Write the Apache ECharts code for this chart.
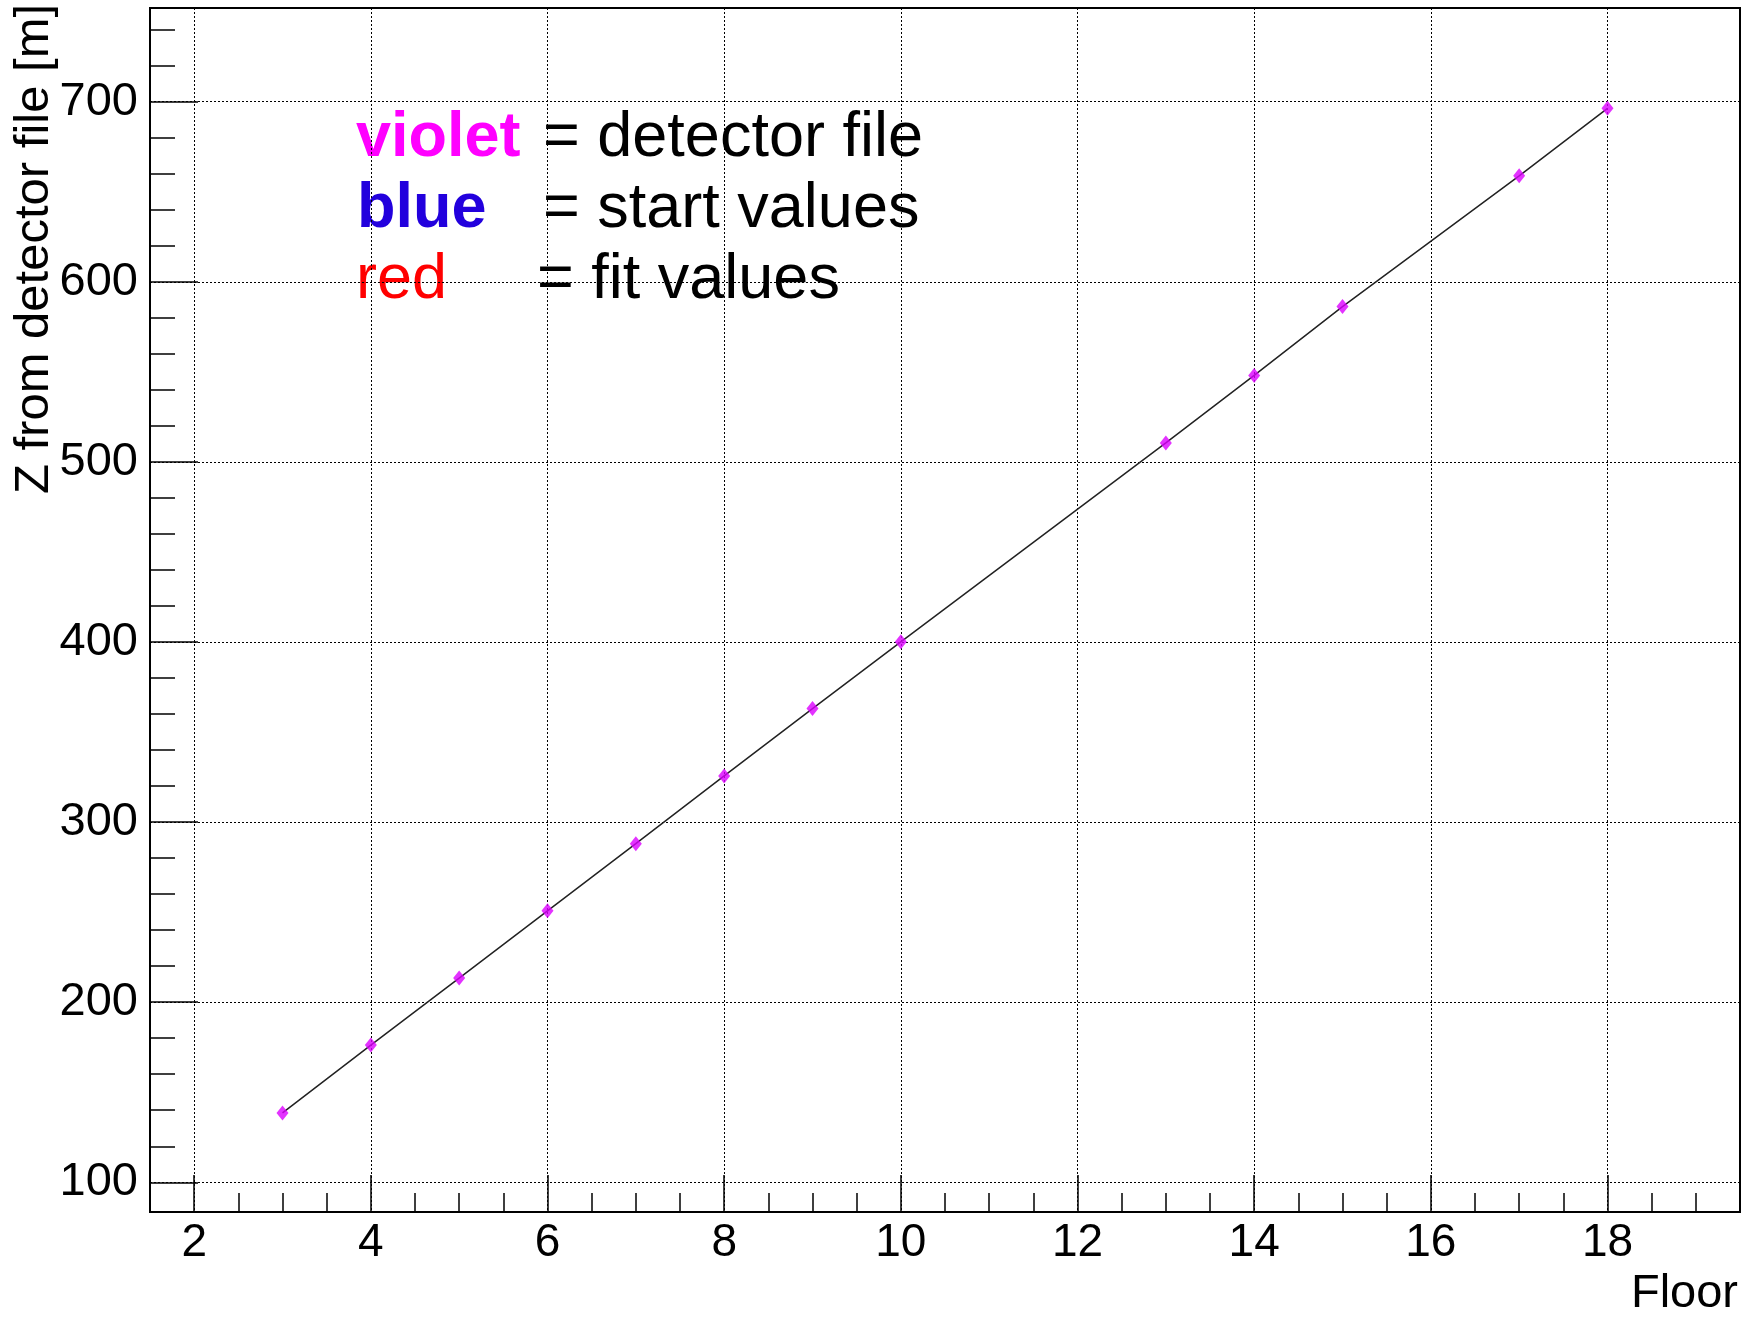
<!DOCTYPE html>
<html>
<head>
<meta charset="utf-8">
<script src="https://cdn.jsdelivr.net/npm/echarts@6/dist/echarts.min.js"></script>
<style>
html,body{margin:0;padding:0;background:#fff;}
#chart{width:1749px;height:1319px;}
</style>
</head>
<body>
<div id="chart"></div>
<script>
// ---- data ----
const floors = [3, 4, 5, 6, 7, 8, 9, 10, 13, 14, 15, 17, 18];
const zValues = [138.5, 176.2, 213.4, 250.7, 288.0, 325.6, 363.0, 400.1, 510.5, 548.0, 586.2, 658.8, 696.3];

const xMajorTicks = [2, 4, 6, 8, 10, 12, 14, 16, 18];
const xMinorTicks = [2, 2.5, 3, 3.5, 4, 4.5, 5, 5.5, 6, 6.5, 7, 7.5, 8, 8.5, 9, 9.5, 10, 10.5, 11, 11.5, 12, 12.5, 13, 13.5, 14, 14.5, 15, 15.5, 16, 16.5, 17, 17.5, 18, 18.5, 19];
const yMajorTicks = [100, 200, 300, 400, 500, 600, 700];
const yMinorTicks = [100, 120, 140, 160, 180, 200, 220, 240, 260, 280, 300, 320, 340, 360, 380, 400, 420, 440, 460, 480, 500, 520, 540, 560, 580, 600, 620, 640, 660, 680, 700, 720, 740];

const xRange = [1.5, 19.5];
const yRange = [83.5, 752];

const xTitle = 'Floor';
const yTitle = 'Z from detector file [m]';
const legendLines = [
  { word: 'violet', rest: '= detector file' },
  { word: 'blue', rest: '= start values' },
  { word: 'red', rest: '= fit values' }
];

// ---- chart ----
const FONT = '"Liberation Sans", Arial, Helvetica, sans-serif';
const chart = echarts.init(document.getElementById('chart'), null, { renderer: 'canvas' });

const dots = { color: '#000', width: 1, type: [2, 2] };

const option = {
  backgroundColor: '#ffffff',
  animation: false,
  grid: {
    left: 150, right: 9, top: 8, bottom: 107,
    show: true, borderColor: '#000', borderWidth: 2,
    containLabel: false, outerBoundsMode: 'none'
  },
  xAxis: [
    {
      type: 'value', min: xRange[0], max: xRange[1], position: 'bottom',
      axisLine: { show: true, onZero: false, lineStyle: { color: '#000', width: 2 } },
      axisTick: { show: true, inside: true, length: 37, customValues: xMajorTicks, lineStyle: { color: '#000', width: 1.5 } },
      axisLabel: { show: true, customValues: xMajorTicks, margin: 8, fontSize: 46, color: '#000', fontFamily: FONT },
      splitLine: { show: true, lineStyle: dots },
      minorTick: { show: false }
    },
    {
      type: 'value', min: xRange[0], max: xRange[1], position: 'bottom',
      axisLine: { show: false, onZero: false },
      axisTick: { show: true, inside: true, length: 19, customValues: xMinorTicks, lineStyle: { color: '#000', width: 1.5 } },
      axisLabel: { show: false },
      splitLine: { show: false }
    }
  ],
  yAxis: [
    {
      type: 'value', min: yRange[0], max: yRange[1], position: 'left',
      axisLine: { show: true, onZero: false, lineStyle: { color: '#000', width: 2 } },
      axisTick: { show: true, inside: true, length: 48, customValues: yMajorTicks, lineStyle: { color: '#000', width: 1.5 } },
      axisLabel: { show: true, customValues: yMajorTicks, margin: 12, fontSize: 47, color: '#000', fontFamily: FONT },
      splitLine: { show: true, lineStyle: dots }
    },
    {
      type: 'value', min: yRange[0], max: yRange[1], position: 'left',
      axisLine: { show: false, onZero: false },
      axisTick: { show: true, inside: true, length: 25, customValues: yMinorTicks, lineStyle: { color: '#000', width: 1.5 } },
      axisLabel: { show: false },
      splitLine: { show: false }
    }
  ],
  series: [
    {
      type: 'line', xAxisIndex: 0, yAxisIndex: 0,
      data: floors.map((f, i) => [f, zValues[i]]),
      showSymbol: false, symbol: 'none',
      lineStyle: { color: '#222', width: 1.5 },
      z: 3
    },
    {
      type: 'scatter', xAxisIndex: 0, yAxisIndex: 0,
      data: floors.map((f, i) => [f, zValues[i]]),
      symbol: 'diamond', symbolSize: [12, 15],
      itemStyle: { color: '#dc00ff' },
      z: 4
    }
  ],
  graphic: [
    {
      type: 'text', x: 34, y: 249, rotation: Math.PI / 2,
      style: { text: yTitle, fontSize: 49, fontFamily: FONT, fill: '#000', align: 'center', verticalAlign: 'middle' }
    },
    {
      type: 'text', x: 1738, y: 1294,
      style: { text: xTitle, fontSize: 47, fontFamily: FONT, fill: '#000', align: 'right', verticalAlign: 'middle' }
    },
    {
      type: 'text', x: 356, y: 139,
      style: { text: legendLines[0].word, fontSize: 63, fontWeight: 'bold', fontFamily: FONT, fill: '#ff00ff', align: 'left', verticalAlign: 'middle' }
    },
    {
      type: 'text', x: 543, y: 139,
      style: { text: legendLines[0].rest, fontSize: 63, fontFamily: FONT, fill: '#000', align: 'left', verticalAlign: 'middle' }
    },
    {
      type: 'text', x: 357, y: 210,
      style: { text: legendLines[1].word, fontSize: 63, fontWeight: 'bold', fontFamily: FONT, fill: '#2200dd', align: 'left', verticalAlign: 'middle' }
    },
    {
      type: 'text', x: 543, y: 210,
      style: { text: legendLines[1].rest, fontSize: 63, fontFamily: FONT, fill: '#000', align: 'left', verticalAlign: 'middle' }
    },
    {
      type: 'text', x: 356, y: 281,
      style: { text: legendLines[2].word, fontSize: 63, fontFamily: FONT, fill: '#ff0000', align: 'left', verticalAlign: 'middle' }
    },
    {
      type: 'text', x: 537, y: 281,
      style: { text: legendLines[2].rest, fontSize: 63, fontFamily: FONT, fill: '#000', align: 'left', verticalAlign: 'middle' }
    }
  ]
};
chart.setOption(option);
</script>
</body>
</html>
